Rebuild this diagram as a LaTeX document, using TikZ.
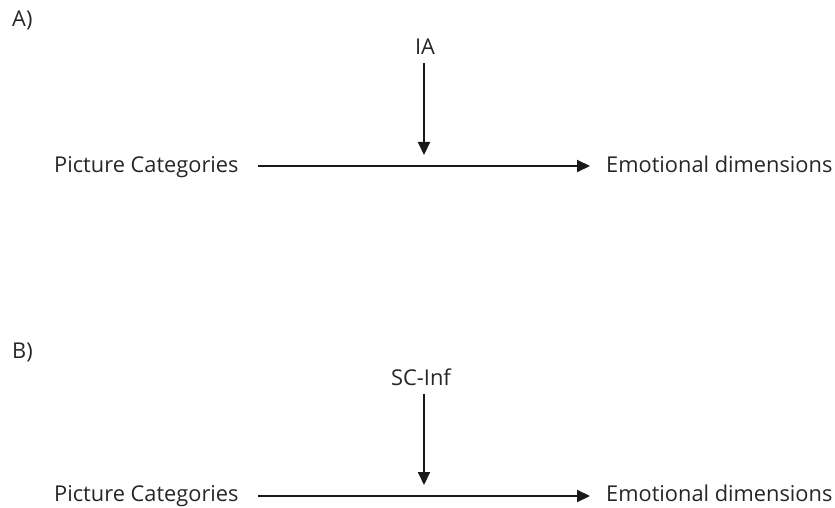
\documentclass[tikz,border=0pt]{standalone}
\usepackage{fontspec}
\setmainfont{Open Sans}
\usetikzlibrary{arrows.meta}
\begin{document}
\begin{tikzpicture}[x=1pt,y=-1pt,
  lbl/.style={text=black!85, font=\fontsize{21.8}{24}\selectfont, inner sep=0pt},
  arr/.style={line width=2pt, draw=black!90, -{Triangle[length=13pt,width=12pt]}}]
\useasboundingbox (0,0) rectangle (835,508);
% A
\node[lbl, anchor=west] (la) at (12,20) {A)};
\node[lbl] (ia) at (425,47) {IA};
\node[lbl, anchor=base west] (pca) at (54,172) {Picture Categories};
\node[lbl, anchor=base west] (eda) at (606,172) {Emotional dimensions};
\coordinate (ma) at (424,166);
\draw[arr] ([xshift=19pt]pca.east |- ma) -- ([xshift=-16pt]eda.west |- ma);
\draw[arr] (ia.south -| ma) ++(0,8) -- ([yshift=11pt]ma);
% B
\node[lbl, anchor=west] (lb) at (12,352) {B)};
\node[lbl] (sc) at (421,377) {SC-Inf};
\node[lbl, anchor=base west] (pcb) at (54,501) {Picture Categories};
\node[lbl, anchor=base west] (edb) at (606,501) {Emotional dimensions};
\coordinate (mb) at (424,496);
\draw[arr] ([xshift=19pt]pcb.east |- mb) -- ([xshift=-16pt]edb.west |- mb);
\draw[arr] (sc.south -| mb) ++(0,8) -- ([yshift=11pt]mb);
\end{tikzpicture}
\end{document}
